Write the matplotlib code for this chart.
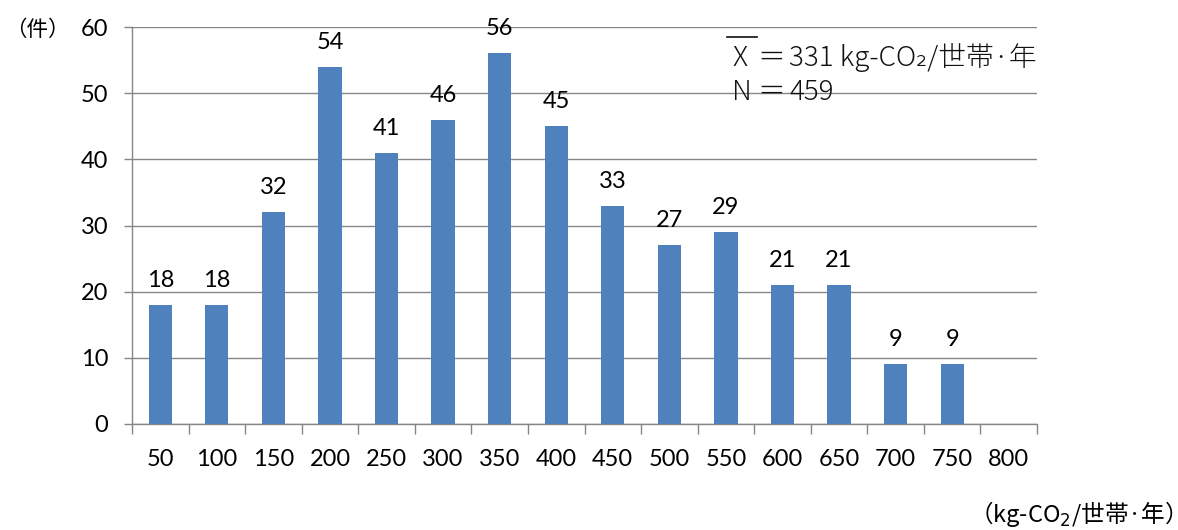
import matplotlib
matplotlib.use("Agg")
import matplotlib.pyplot as plt
from matplotlib.lines import Line2D
import numpy as np

plt.rcParams['font.family'] = ['Lato', 'Noto Sans CJK JP', 'DejaVu Sans']

categories = ["50", "100", "150", "200", "250", "300", "350", "400",
              "450", "500", "550", "600", "650", "700", "750", "800"]
counts = [18, 18, 32, 54, 41, 46, 56, 45, 33, 27, 29, 21, 21, 9, 9, 0]
y_ticks = [0, 10, 20, 30, 40, 50, 60]

bar_color = "#4F81BD"
axis_gray = "#868686"
W, H = 1178, 530

fig = plt.figure(figsize=(W / 100, H / 100), dpi=100)
ax = fig.add_axes([132 / W, 1 - 424 / H, (1037 - 132) / W, (424 - 27) / H])

x = np.arange(len(categories))
ax.bar(x, counts, width=0.41, color=bar_color, zorder=3)

for xi, v in zip(x, counts):
    if v > 0:
        ax.annotate(str(v), xy=(xi, v), xytext=(0, 13), textcoords="offset points",
                    ha="center", va="baseline", fontsize=17, color="#000000")

ax.set_xlim(-0.5, len(categories) - 0.5)
ax.set_ylim(0, 60)
ax.set_yticks(y_ticks)
ax.set_yticklabels([str(t) for t in y_ticks], fontsize=17)
ax.yaxis.grid(True, color=axis_gray, linewidth=1.0, zorder=0)
ax.set_axisbelow(True)

# category labels centred under bars, tick marks at the category boundaries
ax.set_xticks(x)
ax.set_xticklabels(categories, fontsize=17)
ax.tick_params(axis="x", which="major", length=0, pad=18)
ax.set_xticks(np.arange(len(categories) + 1) - 0.5, minor=True)
ax.tick_params(axis="x", which="minor", length=7, width=1, color=axis_gray, direction="out")
ax.tick_params(axis="y", length=6, width=1, color=axis_gray, pad=11)

for side in ("top", "right"):
    ax.spines[side].set_visible(False)
for side in ("left", "bottom"):
    ax.spines[side].set_color(axis_gray)
    ax.spines[side].set_linewidth(1.0)

# unit labels
fig.text(5 / W, 1 - 30 / H, "（件）", fontsize=15.5, ha="left", va="center",
         family=['Noto Sans CJK JP'])
fig.text(1174 / W, 1 - 514 / H, "（kg-CO$_2$/世帯·年）", fontsize=17, ha="right", va="center",
         family=['Noto Sans CJK JP', 'DejaVu Sans'])

# summary statistics: mean with an overbar, and sample size
ann_font = ['Noto Sans CJK JP', 'DejaVu Sans']
ann_kw = dict(fontsize=20, ha="left", va="center", family=ann_font,
              fontweight="light", color="#111111")
for row_y, symbol, value in [(58, "X", "331 kg-CO₂/世帯·年"), (92, "N", "459")]:
    fig.text(732 / W, 1 - row_y / H, symbol, **ann_kw)
    fig.text(757 / W, 1 - row_y / H, "＝", **ann_kw)
    fig.text(789 / W, 1 - row_y / H, value, **ann_kw)
fig.add_artist(Line2D([727 / W, 757 / W], [1 - 37 / H, 1 - 37 / H],
                      transform=fig.transFigure, color="#111111", linewidth=1.2))

fig.savefig("out.png", dpi=100)
